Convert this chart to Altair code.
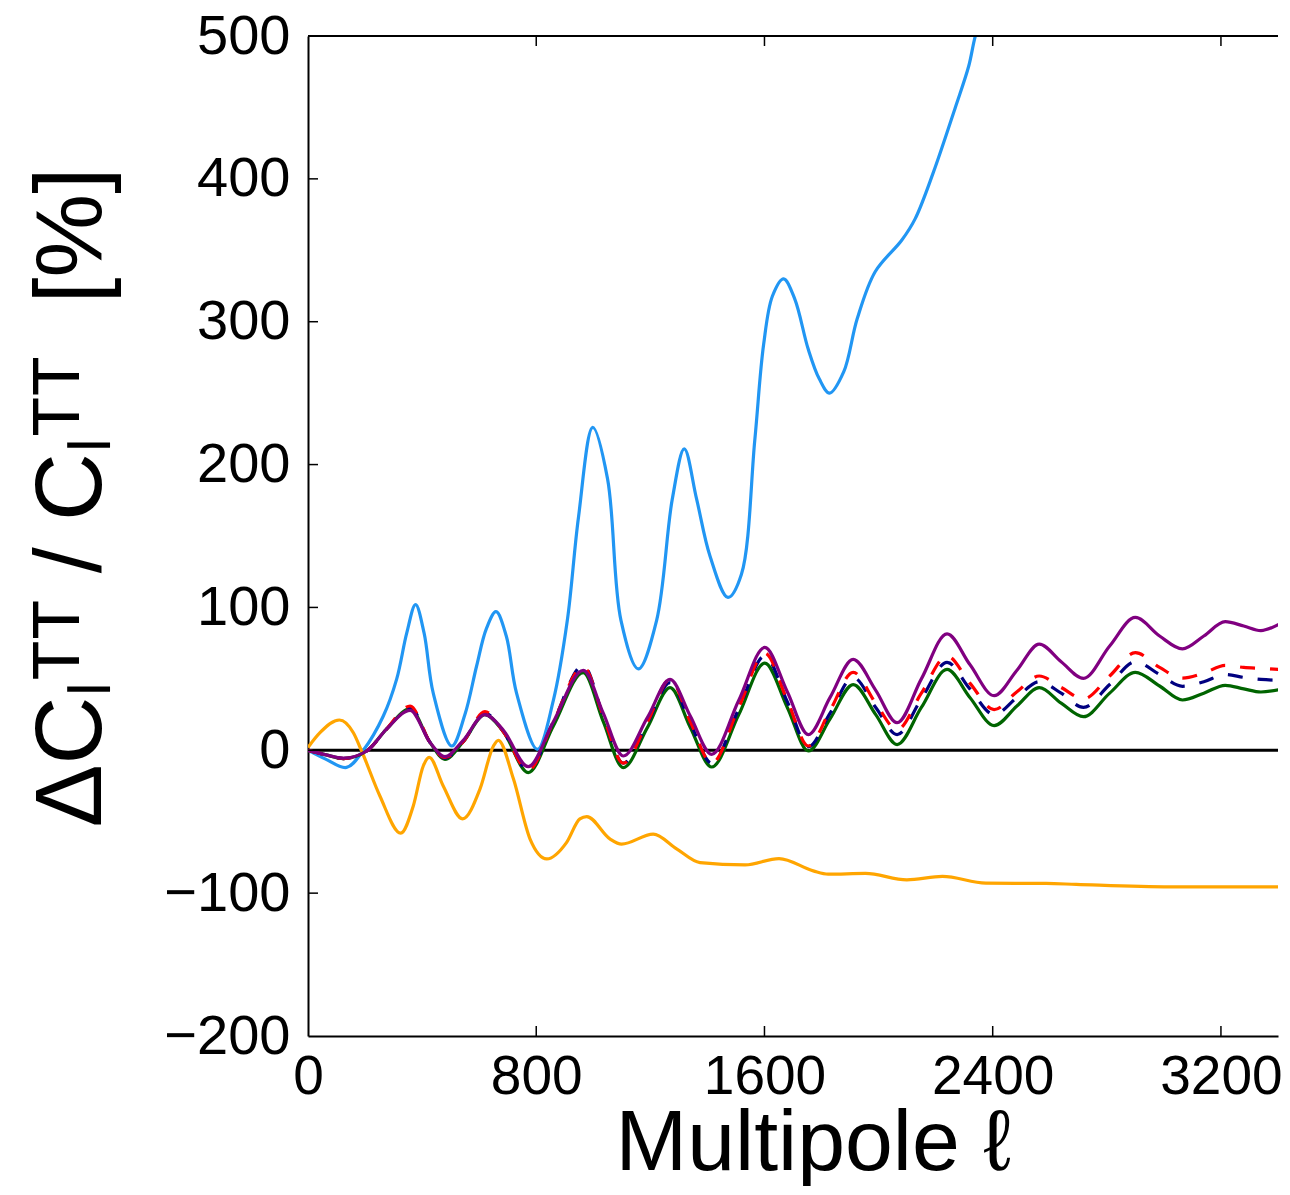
import altair as alt
import pandas as pd

# ---------------- data ----------------
ELL_MAIN = [0, 60, 124, 206, 276, 358, 428, 480, 544, 620, 685, 772, 860, 965, 1035,
            1105, 1190, 1269, 1340, 1415, 1510, 1601, 1680, 1754, 1830, 1911, 1990,
            2065, 2150, 2240, 2320, 2405, 2485, 2563, 2640, 2718, 2810, 2900, 2985,
            3065, 3140, 3215, 3280, 3340, 3407]
DCL_GREEN = [0, -3, -5.8, -0.5, 15, 29, 5.4, -6.3, 6, 25, 13, -15.6, 17, 54.3, 20,
             -12.1, 16, 43.8, 16, -11.7, 25, 61, 30, -0.5, 22, 46, 25,
             4, 30, 56.6, 37, 17.3, 31, 43.8, 33, 23.5, 40, 54.6, 45,
             35.2, 40, 45.5, 43, 40.8, 42.6]
DCL_NAVY = [0, -3, -5.8, -0.5, 15, 30, 5.4, -5.5, 6, 26, 13, -14, 20, 59.4, 24,
            -9, 19, 47.3, 19, -9, 29, 66, 34, 2.5, 26, 51, 30,
            11, 36, 61.5, 43, 25, 37, 48, 40, 30, 46, 62, 53,
            44.8, 48, 53, 51, 49.6, 49]
DCL_RED = [0, -3, -5.8, -0.5, 15, 31, 5.4, -5, 6, 27, 13, -14, 20, 58.5, 24,
           -9, 20, 49.6, 20, -9, 30, 68, 35, 3, 28, 54.6, 33,
           14.5, 40, 66, 47, 28.5, 41, 52, 44, 36, 52, 68.3, 58,
           50.5, 54, 59.5, 58, 57.3, 56.5]
DCL_PURPLE = [0, -3, -5.5, -0.5, 15, 28, 5.4, -4.5, 7, 25, 14, -11.5, 20, 56, 26,
              -4, 23, 49.6, 24, -2.8, 35, 72, 41, 11, 37, 63.6, 42,
              19.3, 50, 81.5, 60, 38.2, 56, 74.3, 62, 50.3, 73, 93, 80,
              71, 80, 90, 87, 83.8, 88.6]

ELL_BLUE = [0, 60, 135, 194, 264, 311, 346, 377, 407, 439,
            504, 550, 591, 625, 659, 695, 731, 804, 860, 909,
            948, 998, 1050, 1097, 1158, 1222, 1277, 1319, 1362, 1409,
            1472, 1519, 1566, 1597, 1628, 1667, 1706, 1753, 1792, 1828,
            1878, 1925, 1988, 2081, 2128, 2191, 2269, 2316, 2339, 2400]
DCL_BLUE = [0, -6, -12, 0, 24, 50, 82, 102, 82, 40,
            3, 25, 59, 85, 97, 80, 40, 0.7, 35, 91,
            163, 226, 190, 91, 57, 91, 176, 211, 176, 136,
            107, 123, 217, 284, 318, 330, 316, 281, 260, 250,
            265, 302, 335, 357, 372, 404, 450, 479, 500, 540]

ELL_ORANGE = [0, 42, 110, 159, 188, 252, 325, 369, 404, 425,
              474, 542, 603, 650, 667, 720, 778, 837, 906, 953,
              977, 1058, 1099, 1210, 1292, 1374, 1532, 1651, 1771, 1823,
              1954, 2099, 2224, 2376, 2587, 2693, 3023, 3407]
DCL_ORANGE = [2, 12.3, 21.2, 12.3, -0.5, -32, -58, -39, -11, -5,
              -25, -48, -27, 3, 7, -20, -62, -76, -64.6, -48,
              -46.4, -62, -65.7, -58.7, -69, -78.6, -80.2, -75.8, -84.4, -86.7,
              -86.2, -90.7, -88.3, -93, -93.2, -93.9, -95.6, -95.6]

X_TICKS = [0, 800, 1600, 2400, 3200]
Y_TICKS = [-200, -100, 0, 100, 200, 300, 400, 500]
X_DOMAIN = [0, 3400]
Y_DOMAIN = [-200, 500]
ZERO_LINE = {"ell": [0], "ell2": [3400], "dcl": [0]}

X_TITLE = "Multipole ℓ"
Y_TITLE = "ΔCₗᵀᵀ / Cₗᵀᵀ\u00a0\u00a0[%]"

# ---------------- styling ----------------
W, H = 970, 1000
FONT = "Liberation Sans"
LW = 3.2

xscale = alt.Scale(domain=X_DOMAIN, nice=False, zero=False)
yscale = alt.Scale(domain=Y_DOMAIN, nice=False, zero=False)

xaxis = alt.Axis(values=X_TICKS, format="d", title=X_TITLE,
                 titleFontSize=86, titleX=505, titleY=133,
                 titleBaseline="alphabetic", titleAlign="center",
                 labelPadding=14, labelFontSize=55, labelFlush=False)
yaxis = alt.Axis(values=Y_TICKS, format="d", title=Y_TITLE,
                 titleFontSize=94, titleAngle=270, titleX=-208, titleY=461,
                 titleBaseline="alphabetic", titleAlign="center",
                 labelPadding=18, labelFontSize=56, labelFlush=False)

X = lambda: alt.X("ell:Q", scale=xscale, axis=xaxis)
Y = lambda: alt.Y("dcl:Q", scale=yscale, axis=yaxis)


def line_layer(ells, vals, color, dash=None, interp="monotone"):
    df = pd.DataFrame({"ell": ells, "dcl": vals})
    kw = dict(color=color, strokeWidth=LW, interpolate=interp, clip=True)
    if dash:
        kw["strokeDash"] = dash
    return alt.Chart(df).mark_line(**kw).encode(x=X(), y=Y())


zero = alt.Chart(pd.DataFrame(ZERO_LINE)).mark_rule(color="black", strokeWidth=3).encode(
    x=X(), x2="ell2:Q", y=Y())

blue = line_layer(ELL_BLUE, DCL_BLUE, "#2196F3", interp="catmull-rom")
orange = line_layer(ELL_ORANGE, DCL_ORANGE, "#FFA500")
green = line_layer(ELL_MAIN, DCL_GREEN, "#006400")
navy = line_layer(ELL_MAIN, DCL_NAVY, "#000080", dash=[15, 15])
red = line_layer(ELL_MAIN, DCL_RED, "#FF0000", dash=[15, 15])
purple = line_layer(ELL_MAIN, DCL_PURPLE, "#800080")

xt = pd.DataFrame({"ell": X_TICKS[1:]})
yt = pd.DataFrame({"dcl": Y_TICKS[1:-1]})
tick_style = dict(color="black", strokeWidth=1.5)
ticks_bottom = alt.Chart(xt).mark_rule(**tick_style).encode(
    x=X(), y=alt.value(H), y2=alt.value(H - 10))
ticks_top = alt.Chart(xt).mark_rule(**tick_style).encode(
    x=X(), y=alt.value(0), y2=alt.value(10))
ticks_left = alt.Chart(yt).mark_rule(**tick_style).encode(
    y=Y(), x=alt.value(0), x2=alt.value(10))
top_spine = alt.Chart(pd.DataFrame({"k": [0]})).mark_rule(color="black", strokeWidth=2).encode(
    x=alt.value(0), x2=alt.value(W), y=alt.value(0))

chart = alt.layer(
    zero, blue, orange, green, navy, red, purple,
    ticks_bottom, ticks_top, ticks_left, top_spine,
).properties(
    width=W, height=H,
    autosize=alt.AutoSizeParams(type="none"),
    padding={"left": 300, "top": 28, "right": 4, "bottom": 150},
    background="white",
).configure_view(stroke=None).configure_axis(
    grid=False, ticks=False, tickSize=0,
    domainColor="black", domainWidth=2,
    labelFont=FONT, labelColor="black",
    titleFont=FONT, titleColor="black", titleFontWeight="normal",
    labelOverlap=False, labelBound=False,
)

chart.save("out.html", embed_options={"renderer": "svg", "actions": False})
